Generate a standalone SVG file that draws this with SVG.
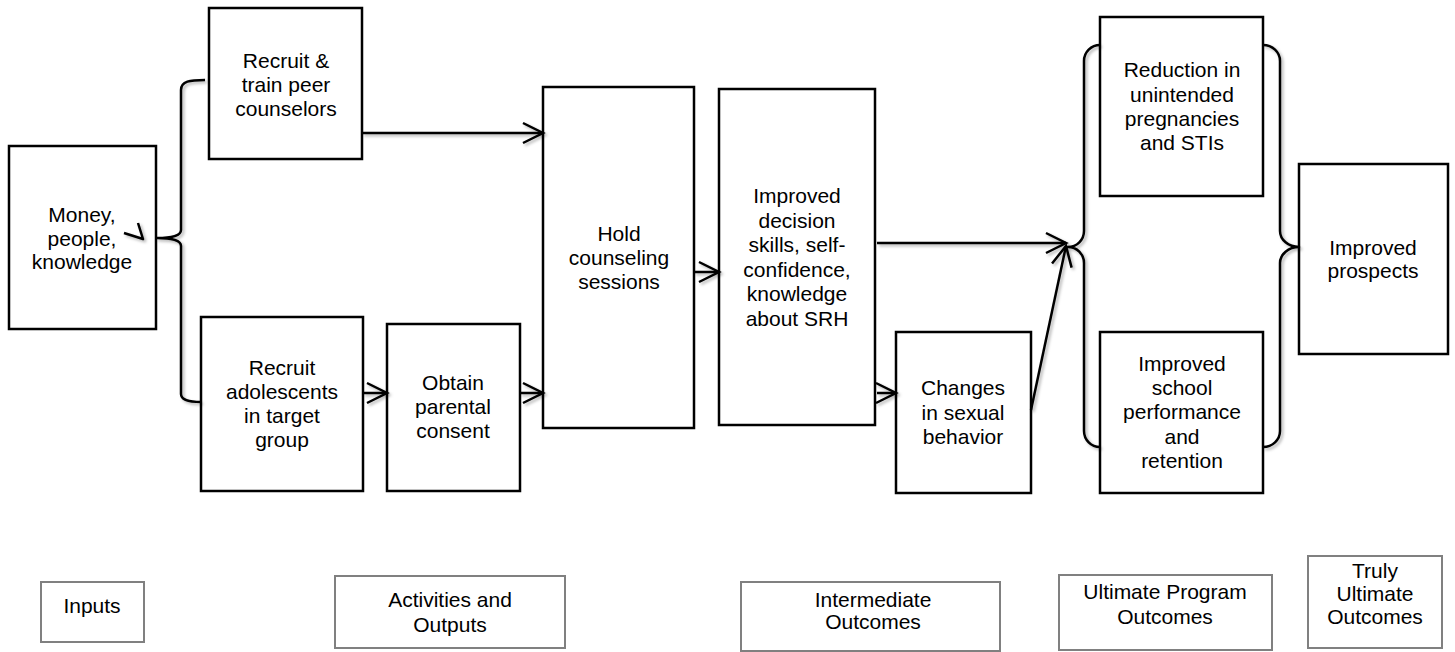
<svg xmlns="http://www.w3.org/2000/svg" width="1455" height="652" viewBox="0 0 1455 652">
<style>
  .box { fill: #ffffff; stroke: #000000; stroke-width: 2.5; }
  .lbl { fill: #ffffff; stroke: #808080; stroke-width: 2; }
  .t { font-family: "Liberation Sans", Arial, sans-serif; font-size: 21px; fill: #000000; text-anchor: middle; }
  .c { fill: none; stroke: #000000; stroke-width: 2.5; stroke-linejoin: round; }
</style>
<defs>
  <marker id="arr" markerUnits="userSpaceOnUse" markerWidth="30" markerHeight="30" viewBox="-25 -15 30 30" refX="0" refY="0" orient="auto">
    <path d="M -20 -10 L 0 0 L -20 10" fill="none" stroke="#000000" stroke-width="2.5" stroke-linejoin="miter"/>
  </marker>
  <filter id="sh" x="-10%" y="-10%" width="130%" height="130%">
    <feDropShadow dx="2" dy="2" stdDeviation="1.5" flood-color="#000000" flood-opacity="0.3"/>
  </filter>
</defs>
<rect width="1455" height="652" fill="#ffffff"/>

<g id="money">
  <rect class="box" x="9" y="146" width="147" height="183"/>
  <text class="t" x="82" y="222">Money,</text>
  <text class="t" x="82" y="246">people,</text>
  <text class="t" x="82" y="269">knowledge</text>
</g>
<g id="recruit-train">
  <rect class="box" x="209" y="8" width="153" height="151"/>
  <text class="t" x="286" y="68">Recruit &amp;</text>
  <text class="t" x="286" y="92">train peer</text>
  <text class="t" x="286" y="116">counselors</text>
</g>
<g id="recruit-adolescents">
  <rect class="box" x="201" y="317" width="162" height="174"/>
  <text class="t" x="282" y="375">Recruit</text>
  <text class="t" x="282" y="399">adolescents</text>
  <text class="t" x="282" y="423">in target</text>
  <text class="t" x="282" y="447">group</text>
</g>
<g id="obtain-consent">
  <rect class="box" x="387" y="324" width="133" height="167"/>
  <text class="t" x="453" y="390">Obtain</text>
  <text class="t" x="453" y="414">parental</text>
  <text class="t" x="453" y="438">consent</text>
</g>
<g id="hold-sessions">
  <rect class="box" x="543" y="87" width="151" height="341"/>
  <text class="t" x="619" y="241">Hold</text>
  <text class="t" x="619" y="265">counseling</text>
  <text class="t" x="619" y="289">sessions</text>
</g>
<g id="improved-skills">
  <rect class="box" x="719" y="89" width="156" height="336"/>
  <text class="t" x="797" y="203">Improved</text>
  <text class="t" x="797" y="227.5">decision</text>
  <text class="t" x="797" y="252">skills, self-</text>
  <text class="t" x="797" y="276.5">confidence,</text>
  <text class="t" x="797" y="301">knowledge</text>
  <text class="t" x="797" y="325.5">about SRH</text>
</g>
<g id="changes-behavior">
  <rect class="box" x="896" y="332" width="135" height="161"/>
  <text class="t" x="963" y="395">Changes</text>
  <text class="t" x="963" y="420">in sexual</text>
  <text class="t" x="963" y="444">behavior</text>
</g>
<g id="reduction">
  <rect class="box" x="1100" y="17" width="163" height="179"/>
  <text class="t" x="1182" y="77">Reduction in</text>
  <text class="t" x="1182" y="102">unintended</text>
  <text class="t" x="1182" y="126">pregnancies</text>
  <text class="t" x="1182" y="150">and STIs</text>
</g>
<g id="school">
  <rect class="box" x="1100" y="332" width="163" height="161"/>
  <text class="t" x="1182" y="371">Improved</text>
  <text class="t" x="1182" y="395">school</text>
  <text class="t" x="1182" y="419">performance</text>
  <text class="t" x="1182" y="444">and</text>
  <text class="t" x="1182" y="468">retention</text>
</g>
<g id="prospects">
  <rect class="box" x="1299" y="164" width="149" height="190"/>
  <text class="t" x="1373" y="255">Improved</text>
  <text class="t" x="1373" y="278">prospects</text>
</g>

<g id="label-inputs">
  <rect class="lbl" x="41" y="582" width="103" height="60"/>
  <text class="t" x="92" y="613">Inputs</text>
</g>
<g id="label-activities">
  <rect class="lbl" x="335" y="576" width="230" height="72"/>
  <text class="t" x="450" y="607">Activities and</text>
  <text class="t" x="450" y="632">Outputs</text>
</g>
<g id="label-intermediate">
  <rect class="lbl" x="741" y="582" width="259" height="69"/>
  <text class="t" x="873" y="607">Intermediate</text>
  <text class="t" x="873" y="629">Outcomes</text>
</g>
<g id="label-ultimate">
  <rect class="lbl" x="1059" y="575" width="213" height="75"/>
  <text class="t" x="1165" y="599">Ultimate Program</text>
  <text class="t" x="1165" y="624">Outcomes</text>
</g>
<g id="label-truly">
  <rect class="lbl" x="1308" y="556" width="134" height="92"/>
  <text class="t" x="1375" y="578">Truly</text>
  <text class="t" x="1375" y="601">Ultimate</text>
  <text class="t" x="1375" y="624">Outcomes</text>
</g>

<g id="connectors" filter="url(#sh)">
  <path class="c" d="M205,80 C190,80 181,81 181,90 L181,230 C181,236 172,238 157,238 C172,238 181,240 181,246 L181,394 C181,400 190,402 201,402"/>
  <polyline class="c" points="124,233 143,239 138,223"/>
  <line class="c" x1="362" y1="133" x2="543" y2="133" marker-end="url(#arr)"/>
  <line class="c" x1="363" y1="393" x2="387" y2="393" marker-end="url(#arr)"/>
  <line class="c" x1="520" y1="393" x2="543" y2="393" marker-end="url(#arr)"/>
  <line class="c" x1="694" y1="272" x2="719" y2="272" marker-end="url(#arr)"/>
  <line class="c" x1="877" y1="393" x2="896" y2="393" marker-end="url(#arr)"/>
  <line class="c" x1="877" y1="243" x2="1066" y2="243" marker-end="url(#arr)"/>
  <line class="c" x1="1031" y1="410" x2="1066" y2="246" marker-end="url(#arr)"/>
  <path class="c" d="M1100,45 A16,16 0 0 0 1084,61 L1084,231 A16,16 0 0 1 1068,247 A16,16 0 0 1 1084,263 L1084,431 A16,16 0 0 0 1100,447"/>
  <path class="c" d="M1263,45 A17,16 0 0 1 1280,61 L1280,231 A19,16 0 0 0 1299,247 A19,16 0 0 0 1280,263 L1280,431 A17,16 0 0 1 1263,447"/>
</g>
</svg>
